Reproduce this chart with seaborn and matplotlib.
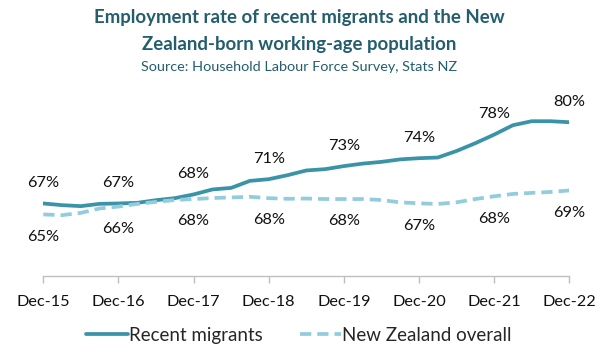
import matplotlib
matplotlib.use("Agg")
import matplotlib.pyplot as plt
import seaborn as sns
import pandas as pd
import numpy as np

quarters = list(range(29))
tick_labels = ["Dec-15", "Dec-16", "Dec-17", "Dec-18", "Dec-19", "Dec-20", "Dec-21", "Dec-22"]
recent_migrants = [66.95, 66.68, 66.52, 66.89, 66.95, 67.05, 67.48, 67.80, 68.40, 69.20,
                   69.45, 70.58, 70.85, 71.49, 72.25, 72.46, 72.95, 73.35, 73.63, 74.03,
                   74.22, 74.33, 75.38, 76.63, 78.01, 79.52, 80.16, 80.16, 80.00]
nz_overall = [65.19, 65.07, 65.44, 66.15, 66.45, 66.88, 67.20, 67.50, 67.66, 67.82,
              67.92, 68.02, 67.80, 67.70, 67.74, 67.66, 67.66, 67.66, 67.50, 67.13,
              66.97, 66.87, 67.13, 67.66, 68.10, 68.48, 68.65, 68.80, 69.04]
series_names = ["Recent migrants", "New Zealand overall"]

df = pd.concat([
    pd.DataFrame({"q": quarters, "rate": recent_migrants, "series": series_names[0]}),
    pd.DataFrame({"q": quarters, "rate": nz_overall, "series": series_names[1]}),
])

sns.set_theme(style="white")
plt.rcParams["font.family"] = ["Lato", "DejaVu Sans"]

c_solid = "#3B93A8"
c_dash = "#93CDDD"
title_col = "#245E6E"

fig = plt.figure(figsize=(5.98, 3.45), dpi=100)
ax = fig.add_axes([0.0724, 0.2, 0.8796, 0.536])

sns.lineplot(data=df, x="q", y="rate", hue="series", style="series",
             palette={series_names[0]: c_solid, series_names[1]: c_dash},
             dashes={series_names[0]: "", series_names[1]: (3, 1.6)},
             linewidth=2.7, ax=ax, legend=True)

ax.set_xlim(0, 28)
ax.set_ylim(55.3, 85)
ax.set_xticks(quarters[::4])
ax.set_xticklabels(tick_labels, fontsize=11.7, color="#111111")
ax.set_yticks([])
ax.set_xlabel("")
ax.set_ylabel("")
for s in ["top", "right", "left"]:
    ax.spines[s].set_visible(False)
ax.spines["bottom"].set_color("#BFBFBF")
ax.spines["bottom"].set_linewidth(1.0)
ax.tick_params(axis="x", which="both", bottom=True, length=5, width=1.0,
               color="#BFBFBF", pad=9)

for i in quarters[::4]:
    ax.annotate(f"{recent_migrants[i]:.0f}%", (i, recent_migrants[i]), xytext=(0, 14.5),
                textcoords="offset points", ha="center", va="center",
                fontsize=11.8, color="#111111")
    ax.annotate(f"{nz_overall[i]:.0f}%", (i, nz_overall[i]), xytext=(0, -16),
                textcoords="offset points", ha="center", va="center",
                fontsize=11.8, color="#111111")

handles, labels = ax.get_legend_handles_labels()
ax.get_legend().remove()
fig.legend(handles, labels, loc="center", bbox_to_anchor=(0.5, 0.028), ncol=2,
           frameon=False, fontsize=13.5, handlelength=2.2, handletextpad=0.05,
           columnspacing=2.0)

fig.text(0.5, 0.948, "Employment rate of recent migrants and the New",
         ha="center", va="center", fontsize=13.4, fontweight="bold", color=title_col)
fig.text(0.5, 0.870, "Zealand-born working-age population",
         ha="center", va="center", fontsize=13.4, fontweight="bold", color=title_col)
fig.text(0.5, 0.806, "Source: Household Labour Force Survey, Stats NZ",
         ha="center", va="center", fontsize=10.4, color=title_col)

fig.savefig("out.png", dpi=100)
